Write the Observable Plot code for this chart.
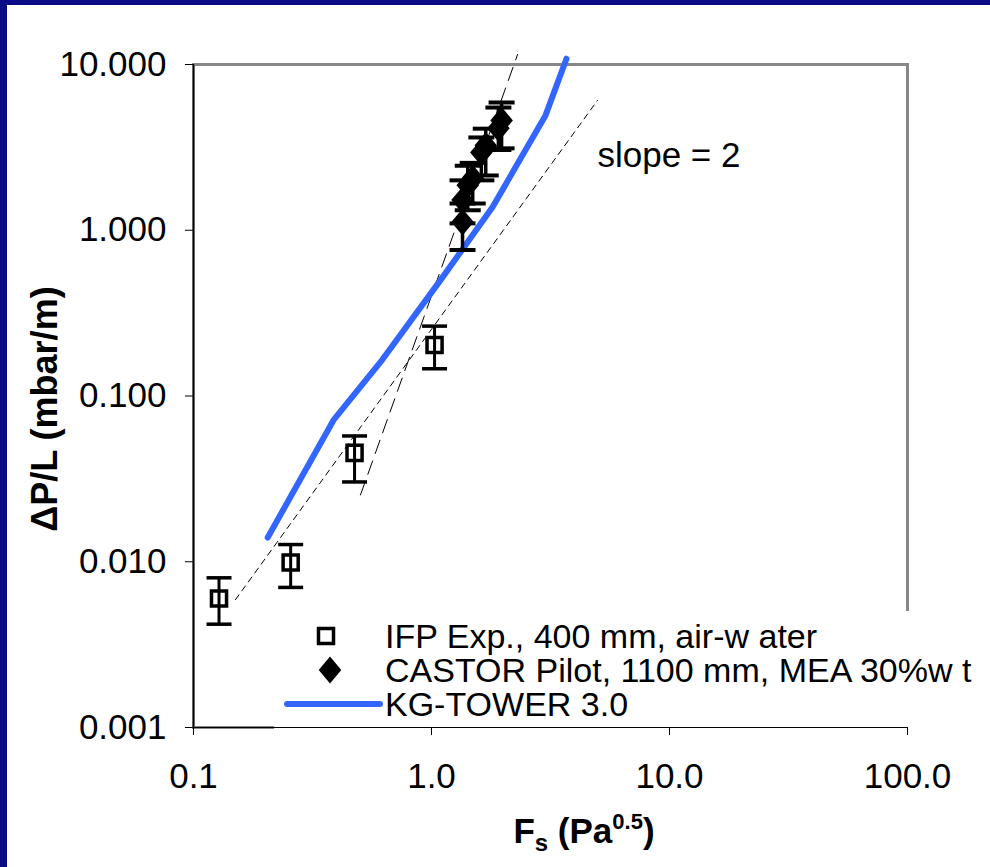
<!DOCTYPE html>
<html>
<head>
<meta charset="utf-8">
<script src="https://cdn.jsdelivr.net/npm/d3@7"></script>
<script src="https://cdn.jsdelivr.net/npm/@observablehq/plot@0.6"></script>
<style>
  html, body { margin: 0; padding: 0; background: #0b0b88; width: 990px; height: 867px; overflow: hidden; }
  #page { position: absolute; left: 7px; top: 5px; width: 983px; height: 862px; background: white; }
  svg { font-family: "Liberation Sans", Arial, sans-serif; }
</style>
</head>
<body>
<div id="page"></div>
<script>
// ---- Data ----
// IFP Exp., 400 mm, air-water (open squares with error bars)
const ifpX  = [0.128, 0.256, 0.475, 1.03];
const ifpY  = [0.0060, 0.0099, 0.0454, 0.203];
const ifpLo = [0.0042, 0.0070, 0.0303, 0.146];
const ifpHi = [0.0080, 0.0127, 0.0574, 0.264];

// CASTOR Pilot, 1100 mm, MEA 30%wt (filled diamonds with error bars)
const castorX  = [1.35, 1.35, 1.42, 1.49, 1.62, 1.69, 1.91, 1.97];
const castorY  = [1.12, 1.52, 1.87, 2.06, 2.95, 3.25, 4.12, 4.60];
const castorLo = [0.76, 1.10, 1.32, 1.45, 2.00, 2.14, 3.05, 3.12];
const castorHi = [1.45, 2.00, 2.45, 2.55, 3.63, 4.10, 5.50, 5.90];

// KG-TOWER 3.0 (blue line)
const kgX = [0.205, 0.388, 0.610, 1.091, 1.803, 3.013, 3.69];
const kgY = [0.0140, 0.0717, 0.160, 0.500, 1.375, 4.93, 10.84];

// Dashed guide lines
const slope2X = [0.150, 4.98];
const slope2Y = [0.0059, 6.07];
const slope4X = [0.503, 2.30];
const slope4Y = [0.0253, 11.5];

// Annotation
const noteX = [4.98], noteY = [2.83], noteText = ["slope = 2"];

// Ticks
const xTicks = [0.1, 1, 10, 100];
const yTicks = [10, 1, 0.1, 0.01, 0.001];

// Legend labels
const legendLabels = ["IFP Exp., 400 mm, air-w ater", "CASTOR Pilot, 1100 mm, MEA 30%w t", "KG-TOWER 3.0"];

// ---- Build tables ----
const ifp = ifpX.map((x, i) => ({x, y: ifpY[i], lo: ifpLo[i], hi: ifpHi[i]}));
const castor = castorX.map((x, i) => ({x, y: castorY[i], lo: castorLo[i], hi: castorHi[i]}));
const kg = kgX.map((x, i) => ({x, y: kgY[i]}));
const s2 = slope2X.map((x, i) => ({x, y: slope2Y[i]}));
const s4 = slope4X.map((x, i) => ({x, y: slope4Y[i]}));
const notes = noteX.map((x, i) => ({x, y: noteY[i], t: noteText[i]}));
const ifpCaps = ifp.flatMap(d => [{x: d.x, y: d.lo}, {x: d.x, y: d.hi}]);
const castorCaps = castor.flatMap(d => [{x: d.x, y: d.lo}, {x: d.x, y: d.hi}]);

// ---- Custom symbols ----
const diamondSym = { draw(ctx, size) { const r = Math.sqrt(size / Math.PI); const h = r * 1.12, w = r * 0.94;
  ctx.moveTo(0, -h); ctx.lineTo(w, 0); ctx.lineTo(0, h); ctx.lineTo(-w, 0); ctx.closePath(); } };
const capSym = { draw(ctx, size) { const r = Math.sqrt(size / Math.PI); ctx.moveTo(-r, 0); ctx.lineTo(r, 0); } };

const W = 983, H = 862;
const mL = 186, mR = 83, mT = 59, mB = 140;
const blue = "#3366ff";

// legend background (covers part of the grey frame, as in the reference)
function legendBg() {
  const g = d3.create("svg:g");
  g.append("rect").attr("x", 267).attr("y", 606).attr("width", W - 267).attr("height", 118).attr("fill", "white");
  return g.node();
}

function legendItems() {
  const g = d3.create("svg:g").attr("font-size", 34).attr("fill", "black").attr("text-anchor", "start");
  const tx = 378, ys = [631, 665, 699];
  g.append("rect").attr("x", 319 - 7.5).attr("y", ys[0] - 7.5).attr("width", 15).attr("height", 15)
    .attr("fill", "none").attr("stroke", "black").attr("stroke-width", 3.5);
  const p = d3.path(); diamondSym.draw(p, Math.PI * 12 * 12);
  g.append("path").attr("d", p.toString()).attr("transform", `translate(323,${ys[1]})`).attr("fill", "black");
  g.append("line").attr("x1", 280).attr("x2", 373).attr("y1", ys[2]).attr("y2", ys[2])
    .attr("stroke", blue).attr("stroke-width", 6).attr("stroke-linecap", "round");
  legendLabels.forEach((t, i) => g.append("text").attr("x", tx).attr("y", ys[i]).attr("dy", "0.36em")
    .attr("text-anchor", "start").text(t));
  return g.node();
}

function titles() {
  const g = d3.create("svg:g").attr("fill", "black").attr("font-weight", "bold");
  g.append("text").attr("transform", "translate(37,404) rotate(-90)").attr("text-anchor", "middle")
    .attr("dy", "0.36em").attr("font-size", 36).text("ΔP/L (mbar/m)");
  const t = g.append("text").attr("x", 577).attr("y", 838).attr("text-anchor", "middle").attr("font-size", 35);
  t.append("tspan").text("F");
  t.append("tspan").attr("dy", 8).attr("font-size", 24).text("s");
  t.append("tspan").attr("dy", -8).text(" (Pa");
  t.append("tspan").attr("dy", -14).attr("font-size", 22).text("0.5");
  t.append("tspan").attr("dy", 14).text(")");
  return g.node();
}

const chart = Plot.plot({
  width: W, height: H,
  marginLeft: mL, marginRight: mR, marginTop: mT, marginBottom: mB,
  style: {background: "white", fontFamily: "Liberation Sans, Arial, sans-serif", overflow: "visible", color: "black"},
  x: {type: "log", domain: [0.1, 100], label: null},
  y: {type: "log", domain: [0.001, 10], label: null},
  marks: [
    Plot.frame({stroke: "#878787", strokeWidth: 3}),
    legendBg,
    Plot.ruleX([0.1], {stroke: "black", strokeWidth: 1.5}),
    Plot.ruleY([0.001], {stroke: "black", strokeWidth: 1}),
    Plot.axisY({ticks: yTicks, tickFormat: d3.format(".3f"), tickSize: 8, tickPadding: 19, fontSize: 35, anchor: "left", label: null, stroke: "black"}),
    Plot.axisX({ticks: xTicks, tickFormat: d3.format(".1f"), tickSize: 8, tickPadding: 28, fontSize: 35, anchor: "bottom", label: null, stroke: "black"}),
    Plot.line(s2, {x: "x", y: "y", stroke: "black", strokeWidth: 1, strokeDasharray: "6,5"}),
    Plot.line(s4, {x: "x", y: "y", stroke: "black", strokeWidth: 1, strokeDasharray: "14,8"}),
    Plot.line(kg, {x: "x", y: "y", stroke: blue, strokeWidth: 6, strokeLinecap: "round", strokeLinejoin: "round"}),
    Plot.ruleX(ifp, {x: "x", y1: "lo", y2: "hi", stroke: "black", strokeWidth: 3}),
    Plot.dot(ifpCaps, {x: "x", y: "y", symbol: capSym, r: 12.5, stroke: "black", strokeWidth: 3.5, fill: "none"}),
    Plot.dot(ifp, {x: "x", y: "y", symbol: "square", r: 8.5, stroke: "black", strokeWidth: 3.5, fill: "none"}),
    Plot.ruleX(castor, {x: "x", y1: "lo", y2: "hi", stroke: "black", strokeWidth: 3.5}),
    Plot.dot(castorCaps, {x: "x", y: "y", symbol: capSym, r: 13, stroke: "black", strokeWidth: 4, fill: "none"}),
    Plot.dot(castor, {x: "x", y: "y", symbol: diamondSym, r: 12, fill: "black", stroke: "none"}),
    Plot.text(notes, {x: "x", y: "y", text: "t", textAnchor: "start", fontSize: 35, fill: "black"}),
    legendItems,
    titles
  ]
});
document.getElementById("page").appendChild(chart);
</script>
</body>
</html>
